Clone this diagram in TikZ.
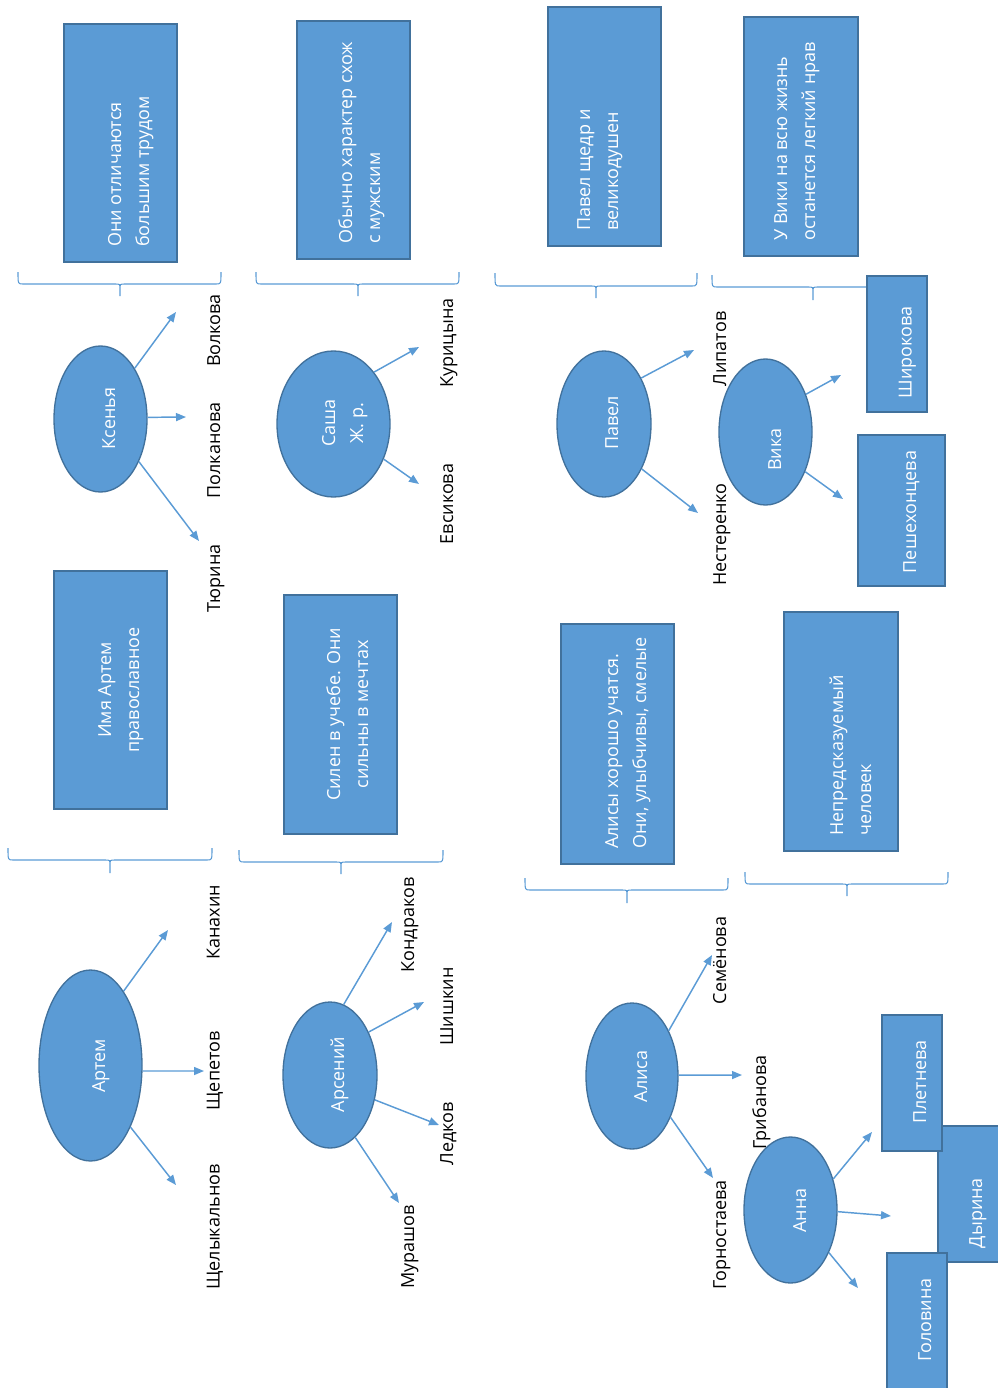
\documentclass[tikz,border=0pt]{standalone}
\usepackage{fontspec}
\setmainfont{Open Sans}
\usetikzlibrary{arrows.meta,shapes.geometric}
\definecolor{fillb}{HTML}{5B9BD5}
\definecolor{edgeb}{HTML}{41719C}
\newdimen\pxu \pxu=0.75pt
\newcommand\twoline[3]{\begin{tabular}[t]{@{}#1@{}}#2\\#3\end{tabular}}
\newcommand\mybrace[6]{\draw[brc] (#1,#4) .. controls (#1,#5) .. (#1+5,#5) -- (#3-5,#5) .. controls (#3,#5) .. (#3,#5+5) -- (#3,#6) -- (#3,#5+5) .. controls (#3,#5) .. (#3+5,#5) -- (#2-5,#5) .. controls (#2,#5) .. (#2,#4);}
\begin{document}
\begin{tikzpicture}[x=0.75pt,y=-0.75pt,
  txtfont/.style={font=\fontsize{13.5}{21}\selectfont},
  boxn/.style={draw=edgeb, fill=fillb, line width=1pt, inner sep=0pt, rectangle},
  ell/.style={ellipse, draw=edgeb, fill=fillb, line width=1pt, inner sep=0pt},
  wtxt/.style={txtfont, text=white, rotate=90, inner sep=0pt},
  btxt/.style={txtfont, text=black, rotate=90, inner sep=0pt, anchor=base},
  arr/.style={draw=fillb, line width=1.1pt, -{Triangle[length=7.5pt,width=6pt]}},
  brc/.style={draw=fillb, line width=0.8pt}]
\useasboundingbox (0,0) rectangle (998,1388);

% braces
\mybrace{18}{221}{120}{272}{284}{296}
\mybrace{256}{459}{358}{272}{284}{296}
\mybrace{495}{697}{596}{273}{286}{298}
\mybrace{712}{914}{813}{275}{287}{300}
\mybrace{8}{212}{110}{848}{860}{873}
\mybrace{239}{443}{341}{850}{862}{874}
\mybrace{525}{728}{627}{878}{890}{903}
\mybrace{745}{948}{847}{872}{884}{896}

% big boxes
\node[boxn, minimum width=113\pxu, minimum height=238\pxu] (b1) at (120.5,143) {};
\node[boxn, minimum width=113\pxu, minimum height=238\pxu] (b2) at (353.5,140) {};
\node[boxn, minimum width=113\pxu, minimum height=239\pxu] (b3) at (604.5,126.5) {};
\node[boxn, minimum width=114\pxu, minimum height=239\pxu] (b4) at (801,136.5) {};
\node[boxn, minimum width=113\pxu, minimum height=238\pxu] (b5) at (110.5,690) {};
\node[boxn, minimum width=113\pxu, minimum height=239\pxu] (b6) at (340.5,714.5) {};
\node[boxn, minimum width=113\pxu, minimum height=240\pxu] (b7) at (617.5,744) {};
\node[boxn, minimum width=114\pxu, minimum height=239\pxu] (b8) at (841,731.5) {};

\node[wtxt, anchor=base west] (t1) at (121,247) {\twoline{l}{Они отличаются}{большим трудом}};
\node[wtxt, anchor=base west] (t2) at (352,244) {\twoline{l}{Обычно характер схож}{с мужским}};
\node[wtxt, anchor=base west] (t3) at (590,231) {\twoline{l}{Павел щедр и}{великодушен}};
\node[wtxt, anchor=base west] (t4) at (787,241) {\twoline{l}{У Вики на всю жизнь}{останется легкий нрав}};
\node[wtxt, anchor=base] (t5) at (111,690) {\twoline{c}{Имя Артем}{православное}};
\node[wtxt, anchor=base] (t6) at (340,714.5) {\twoline{c}{Силен в учебе. Они}{сильны в мечтах}};
\node[wtxt, anchor=base west] (t7) at (618,849) {\twoline{l}{Алисы хорошо учатся.}{Они, улыбчивы, смелые}};
\node[wtxt, anchor=base west] (t8) at (843,836) {\twoline{l}{Непредсказуемый}{человек}};

% small boxes
\node[boxn, minimum width=60\pxu, minimum height=136\pxu] (shir) at (897,344) {};
\node[boxn, minimum width=87\pxu, minimum height=151\pxu] (pesh) at (901.5,510.5) {};
\node[boxn, minimum width=66\pxu, minimum height=136\pxu] (dyr) at (971,1194) {};
\node[boxn, minimum width=60\pxu, minimum height=136\pxu] (plet) at (912,1083) {};
\node[boxn, minimum width=60\pxu, minimum height=139\pxu] (gol) at (917,1322.5) {};
\node[wtxt, anchor=base] (tshir) at (911.5,352.5) {Широкова};
\node[wtxt, anchor=base] (tpesh) at (916,512) {Пешехонцева};
\node[wtxt, anchor=base] (tdyr) at (982,1213) {Дырина};
\node[wtxt, anchor=base] (tplet) at (926,1082) {Плетнева};
\node[wtxt, anchor=base] (tgol) at (931,1320) {Головина};

% ellipses
\node[ell, minimum width=93\pxu, minimum height=146\pxu] (ksen) at (100.5,419) {};
\node[ell, minimum width=113\pxu, minimum height=146\pxu] (sasha) at (333.5,424) {};
\node[ell, minimum width=94\pxu, minimum height=146\pxu] (pavel) at (604,424) {};
\node[ell, minimum width=93\pxu, minimum height=146\pxu] (vika) at (765.5,432) {};
\node[ell, minimum width=103\pxu, minimum height=191\pxu] (artem) at (90.5,1065.5) {};
\node[ell, minimum width=94\pxu, minimum height=146\pxu] (arsen) at (330,1075) {};
\node[ell, minimum width=92\pxu, minimum height=146\pxu] (alisa) at (632,1076) {};
\node[ell, minimum width=93\pxu, minimum height=146\pxu] (anna) at (790.5,1210) {};

\node[wtxt, anchor=base] (tksen) at (115,418.5) {Ксенья};
\node[wtxt, anchor=base] (tsasha) at (335,423) {\twoline{c}{Саша}{Ж. р.}};
\node[wtxt, anchor=base] (tpavel) at (618,423) {Павел};
\node[wtxt, anchor=base] (tvika) at (781,449.5) {Вика};
\node[wtxt, anchor=base] (tartem) at (105,1066) {Артем};
\node[wtxt, anchor=base] (tarsen) at (344,1074.5) {Арсений};
\node[wtxt, anchor=base] (talisa) at (647,1076.5) {Алиса};
\node[wtxt, anchor=base] (tanna) at (806,1210.5) {Анна};

% labels
\node[btxt] (lvol) at (220,330.5) {Волкова};
\node[btxt] (lpol) at (220,450.5) {Полканова};
\node[btxt] (ltur) at (220,578.5) {Тюрина};
\node[btxt] (lkur) at (453,343) {Курицына};
\node[btxt] (levs) at (453,504) {Евсикова};
\node[btxt] (llip) at (726,349) {Липатов};
\node[btxt] (lnes) at (726,534.5) {Нестеренко};
\node[btxt] (lkan) at (219.5,922.5) {Канахин};
\node[btxt] (lshch) at (219.5,1071) {Щепетов};
\node[btxt] (lshchel) at (219.5,1227) {Щелыкальнов};
\node[btxt] (lkon) at (414,925) {Кондраков};
\node[btxt] (lshi) at (453,1006.5) {Шишкин};
\node[btxt] (lled) at (453,1133.5) {Ледков};
\node[btxt] (lmur) at (414,1247) {Мурашов};
\node[btxt] (lsem) at (726,960.5) {Семёнова};
\node[btxt] (lgri) at (766,1102.5) {Грибанова};
\node[btxt] (lgor) at (726,1235) {Горностаева};

% arrow ends
\coordinate (kv) at (176,312);
\coordinate (kp) at (186,417);
\coordinate (kt) at (199,541);
\coordinate (sk) at (419,347);
\coordinate (se) at (419,484);
\coordinate (pl) at (694,350);
\coordinate (pn) at (698,513);
\coordinate (vs) at (841,375);
\coordinate (vp) at (843,499);
\coordinate (ak) at (168,930);
\coordinate (ash) at (204,1071);
\coordinate (asl) at (176,1185);
\coordinate (rk) at (392,922);
\coordinate (rsh) at (424,1002);
\coordinate (rl) at (439,1125);
\coordinate (rm) at (399,1203);
\coordinate (ls) at (712,955);
\coordinate (lg) at (742,1075);
\coordinate (lgo) at (713,1178);
\coordinate (np) at (872,1132);
\coordinate (nd) at (891,1216);
\coordinate (ng) at (858,1288);

\draw[arr] (ksen.56.4) -- (kv);
\draw[arr] (ksen.2) -- (kp);
\draw[arr] (ksen.-48.2) -- (kt);
\draw[arr] (sasha.52.6) -- (sk);
\draw[arr] (sasha.-35.5) -- (se);
\draw[arr] (pavel.51.2) -- (pl);
\draw[arr] (pavel.-50.6) -- (pn);
\draw[arr] (vika.43.9) -- (vs);
\draw[arr] (vika.-45.3) -- (vp);
\draw[arr] (artem.66.7) -- (ak);
\draw[arr] (artem.-6.1) -- (ash);
\draw[arr] (artem.-57.7) -- (asl);
\draw[arr] (arsen.79.6) -- (rk);
\draw[arr] (arsen.48.5) -- (rsh);
\draw[arr] (arsen.-29.5) -- (rl);
\draw[arr] (arsen.-68) -- (rm);
\draw[arr] (alisa.51.8) -- (ls);
\draw[arr] (alisa.1.2) -- (lg);
\draw[arr] (alisa.-47.1) -- (lgo);
\draw[arr] (anna.36.3) -- (np);
\draw[arr] (anna.-2.5) -- (nd);
\draw[arr] (anna.-48.2) -- (ng);
\end{tikzpicture}
\end{document}
